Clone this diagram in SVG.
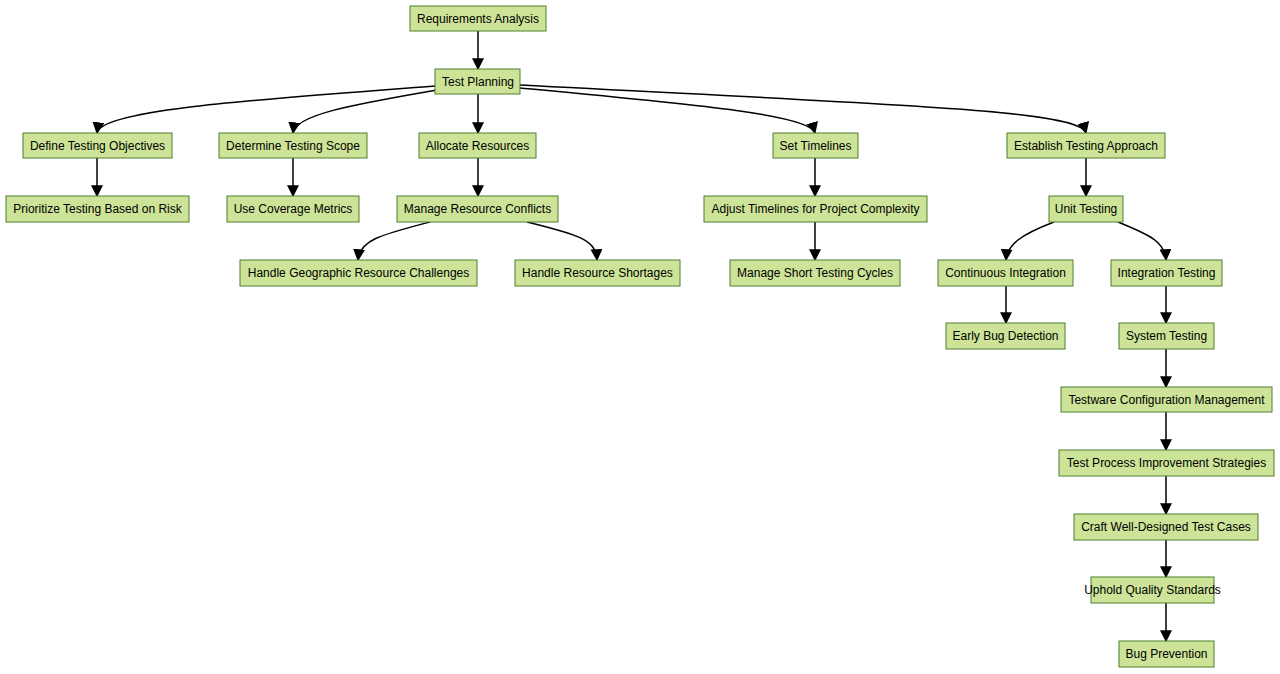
<svg xmlns="http://www.w3.org/2000/svg" width="1280" height="674" viewBox="0 0 1280 674">
<style>
.n rect{fill:#cde498;stroke:#4f7f2f;stroke-width:1}
.n text{font-family:"Liberation Sans",Arial,sans-serif;font-size:12px;fill:#000;text-anchor:middle;dominant-baseline:central}
.e path{fill:none;stroke:#000;stroke-width:1.5;marker-end:url(#a)}
</style>
<defs><marker id="a" viewBox="0 0 10 10" refX="9" refY="5" markerWidth="8" markerHeight="8" orient="auto"><path d="M0,0L10,5L0,10z" fill="#000"/></marker></defs>
<rect width="1280" height="674" fill="#fff"/>
<g class="e">
<path d="M478,31V69"/>
<path d="M435,86C250,100 100,110 97,133"/>
<path d="M437,90C350,105 295,115 293,133"/>
<path d="M478,94V133"/>
<path d="M520,88C700,105 810,115 815,133"/>
<path d="M520,85C900,105 1080,110 1086,133"/>
<path d="M97,158V196"/>
<path d="M293,158V196"/>
<path d="M478,158V196"/>
<path d="M815,158V196"/>
<path d="M1086,158V196"/>
<path d="M430,222C380,235 360,240 358,260"/>
<path d="M527,222C580,235 596,240 597,260"/>
<path d="M815,222V260"/>
<path d="M1054,222C1020,235 1007,245 1006,260"/>
<path d="M1118,222C1150,235 1165,242 1166,260"/>
<path d="M1006,286V323"/>
<path d="M1166,286V323"/>
<path d="M1166,349V387"/>
<path d="M1166,412V450"/>
<path d="M1166,476V514"/>
<path d="M1166,540V577"/>
<path d="M1166,603V641"/>
</g>
<g class="n" id="ra"><rect x="410" y="6" width="136" height="25"/><text x="478" y="18.5">Requirements Analysis</text></g>
<g class="n" id="tp"><rect x="435" y="69" width="85" height="25"/><text x="478" y="81.5">Test Planning</text></g>
<g class="n" id="dto"><rect x="23" y="133" width="149" height="25"/><text x="97.5" y="145.5">Define Testing Objectives</text></g>
<g class="n" id="dts"><rect x="219" y="133" width="148" height="25"/><text x="293" y="145.5">Determine Testing Scope</text></g>
<g class="n" id="ar"><rect x="419" y="133" width="117" height="25"/><text x="477.5" y="145.5">Allocate Resources</text></g>
<g class="n" id="st"><rect x="773" y="133" width="85" height="25"/><text x="815.5" y="145.5">Set Timelines</text></g>
<g class="n" id="eta"><rect x="1007" y="133" width="158" height="25"/><text x="1086" y="145.5">Establish Testing Approach</text></g>
<g class="n" id="ptr"><rect x="6" y="196" width="183" height="26"/><text x="97.5" y="209">Prioritize Testing Based on Risk</text></g>
<g class="n" id="ucm"><rect x="227" y="196" width="132" height="26"/><text x="293" y="209">Use Coverage Metrics</text></g>
<g class="n" id="mrc"><rect x="397" y="196" width="161" height="26"/><text x="477.5" y="209">Manage Resource Conflicts</text></g>
<g class="n" id="atp"><rect x="704" y="196" width="223" height="26"/><text x="815.5" y="209">Adjust Timelines for Project Complexity</text></g>
<g class="n" id="ut"><rect x="1049" y="196" width="74" height="26"/><text x="1086" y="209">Unit Testing</text></g>
<g class="n" id="hgr"><rect x="240" y="260" width="237" height="26"/><text x="358.5" y="273">Handle Geographic Resource Challenges</text></g>
<g class="n" id="hrs"><rect x="515" y="260" width="165" height="26"/><text x="597.5" y="273">Handle Resource Shortages</text></g>
<g class="n" id="mstc"><rect x="730" y="260" width="170" height="26"/><text x="815" y="273">Manage Short Testing Cycles</text></g>
<g class="n" id="ci"><rect x="938" y="260" width="135" height="26"/><text x="1005.5" y="273">Continuous Integration</text></g>
<g class="n" id="it"><rect x="1111" y="260" width="111" height="26"/><text x="1166.5" y="273">Integration Testing</text></g>
<g class="n" id="ebd"><rect x="946" y="323" width="119" height="26"/><text x="1005.5" y="336">Early Bug Detection</text></g>
<g class="n" id="syst"><rect x="1119" y="323" width="95" height="26"/><text x="1166.5" y="336">System Testing</text></g>
<g class="n" id="tcm"><rect x="1061" y="387" width="211" height="25"/><text x="1166.5" y="399.5">Testware Configuration Management</text></g>
<g class="n" id="tpis"><rect x="1059" y="450" width="215" height="26"/><text x="1166.5" y="463">Test Process Improvement Strategies</text></g>
<g class="n" id="cwd"><rect x="1074" y="514" width="184" height="26"/><text x="1166" y="527">Craft Well-Designed Test Cases</text></g>
<g class="n" id="uqs"><rect x="1091" y="577" width="123" height="26"/><text x="1152.5" y="590">Uphold Quality Standards</text></g>
<g class="n" id="bp"><rect x="1119" y="641" width="95" height="26"/><text x="1166.5" y="654">Bug Prevention</text></g>
</svg>
